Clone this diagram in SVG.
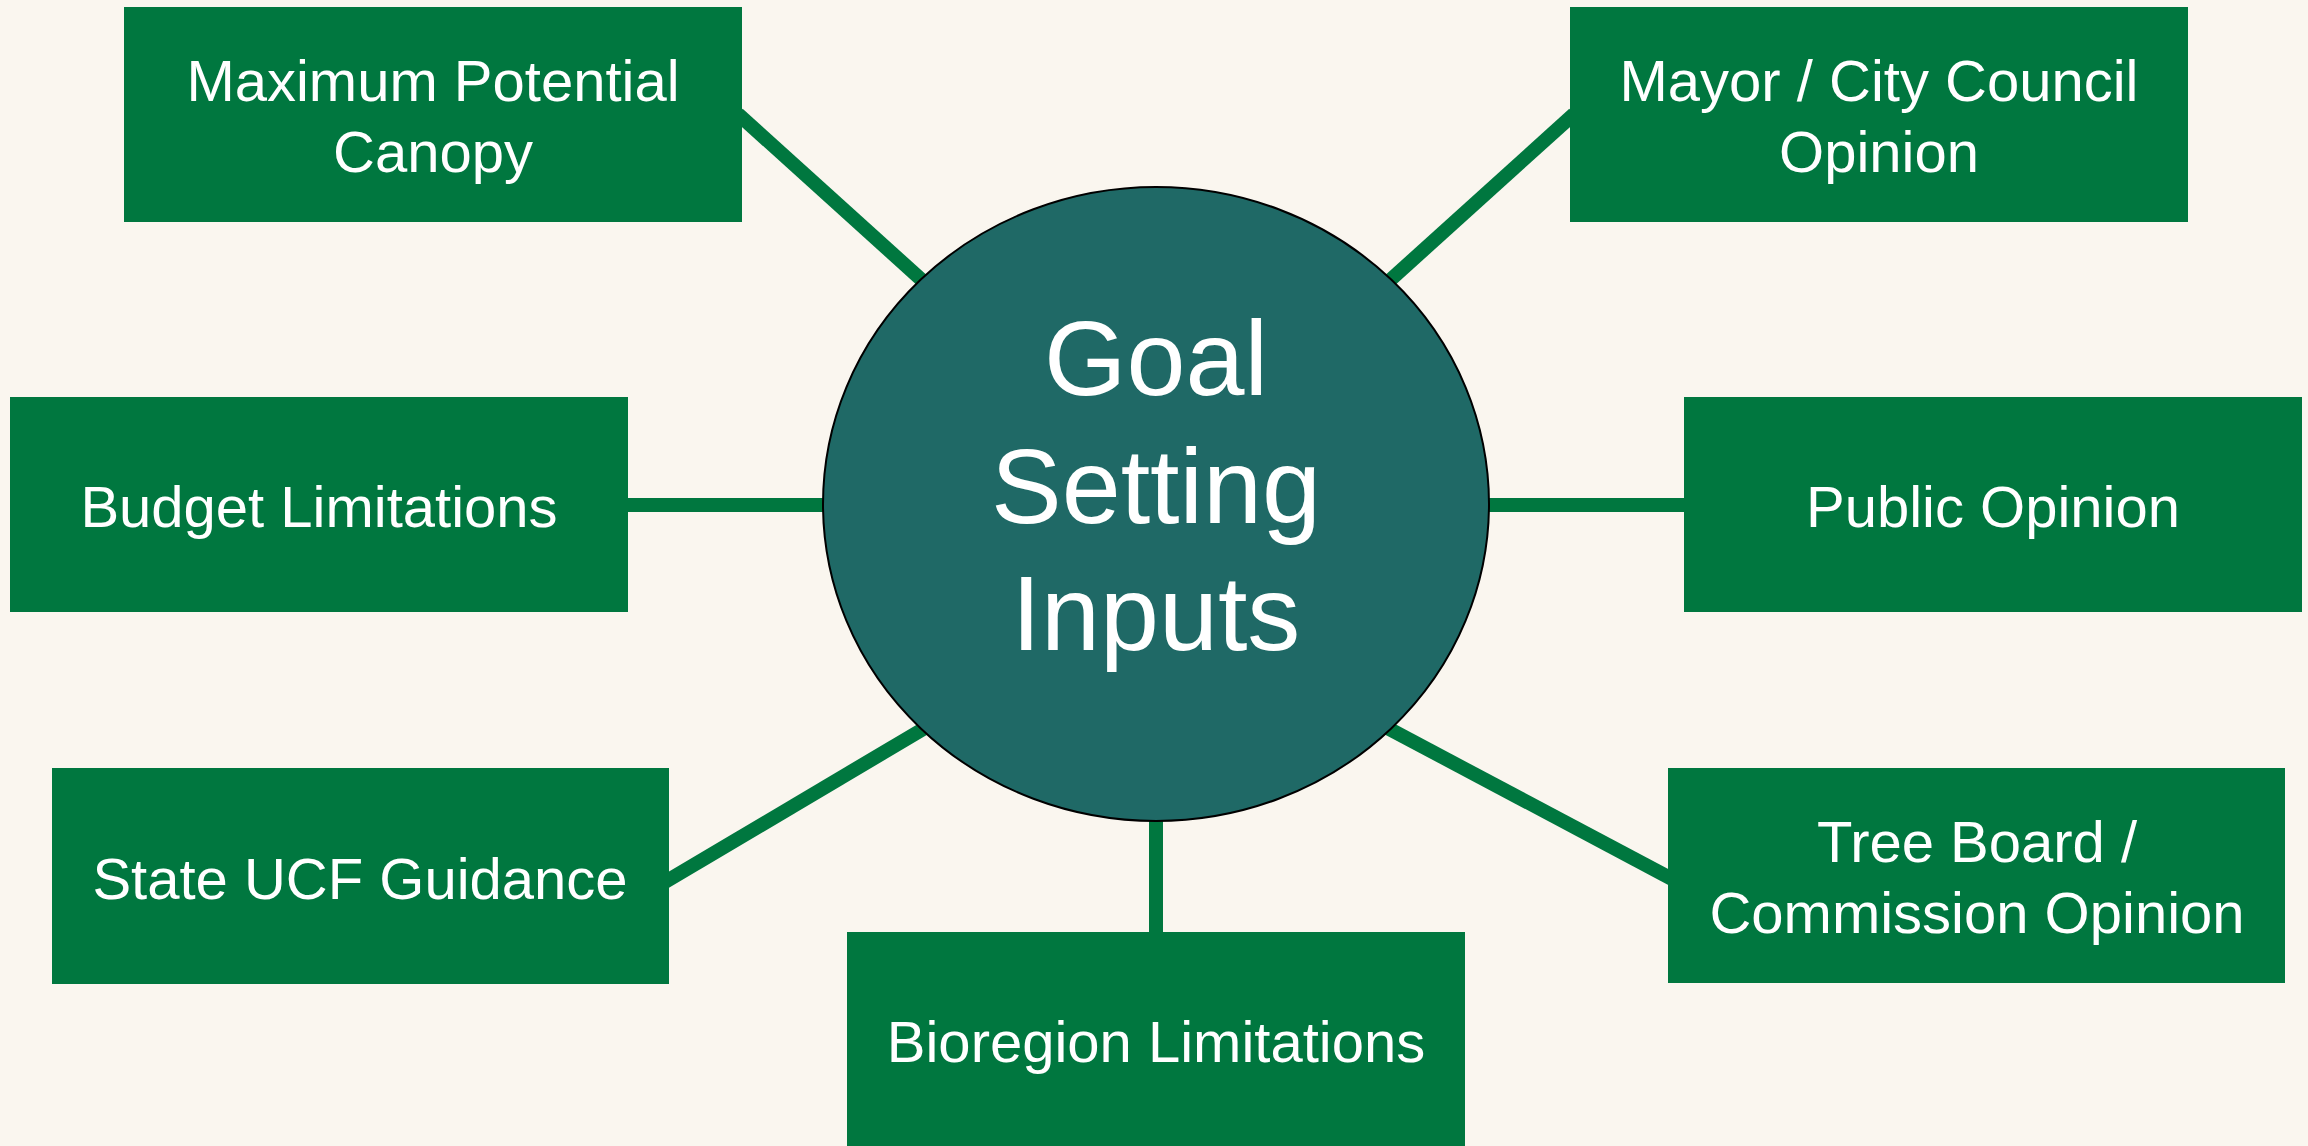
<svg xmlns="http://www.w3.org/2000/svg" width="2308" height="1146" viewBox="0 0 2308 1146">
  <style>
    .box { fill: #00773F; }
    .lbl { fill: #FFFFFF; font-family: "Liberation Sans", Arial, sans-serif; font-size: 58px; text-anchor: middle; }
    .hub { fill: #1F6966; stroke: #000000; stroke-width: 2; }
    .hubtxt { fill: #FFFFFF; font-family: "Liberation Sans", Arial, sans-serif; font-size: 106px; text-anchor: middle; }
    .conn { stroke: #00773F; stroke-width: 14; fill: none; stroke-linecap: butt; }
  </style>
  <rect width="2308" height="1146" fill="#FAF6EF"/>
  <g id="connectors">
    <line class="conn" x1="738" y1="114" x2="935" y2="292"/>
    <line class="conn" x1="1574" y1="114" x2="1377" y2="292"/>
    <line class="conn" x1="620" y1="505" x2="830" y2="505"/>
    <line class="conn" x1="1480" y1="505" x2="1690" y2="505"/>
    <line class="conn" x1="665" y1="882" x2="935" y2="722"/>
    <line class="conn" x1="1380" y1="724" x2="1672" y2="879"/>
    <line class="conn" x1="1156" y1="810" x2="1156" y2="940"/>
  </g>
  <g id="node-max-canopy">
    <rect class="box" x="124" y="7" width="618" height="215"/>
    <text class="lbl" x="433" y="101">Maximum Potential</text>
    <text class="lbl" x="433" y="172">Canopy</text>
  </g>
  <g id="node-mayor">
    <rect class="box" x="1570" y="7" width="618" height="215"/>
    <text class="lbl" x="1879" y="101">Mayor / City Council</text>
    <text class="lbl" x="1879" y="172">Opinion</text>
  </g>
  <g id="node-budget">
    <rect class="box" x="10" y="397" width="618" height="215"/>
    <text class="lbl" x="319" y="527">Budget Limitations</text>
  </g>
  <g id="node-public">
    <rect class="box" x="1684" y="397" width="618" height="215"/>
    <text class="lbl" x="1993" y="527">Public Opinion</text>
  </g>
  <g id="node-state">
    <rect class="box" x="52" y="768" width="617" height="216"/>
    <text class="lbl" x="360" y="899">State UCF Guidance</text>
  </g>
  <g id="node-treeboard">
    <rect class="box" x="1668" y="768" width="617" height="215"/>
    <text class="lbl" x="1977" y="862">Tree Board /</text>
    <text class="lbl" x="1977" y="933">Commission Opinion</text>
  </g>
  <g id="node-bioregion">
    <rect class="box" x="847" y="932" width="618" height="220"/>
    <text class="lbl" x="1156" y="1062">Bioregion Limitations</text>
  </g>
  <g id="node-hub">
    <ellipse class="hub" cx="1156" cy="504" rx="333" ry="317"/>
    <text class="hubtxt" x="1156" y="395">Goal</text>
    <text class="hubtxt" x="1156" y="523">Setting</text>
    <text class="hubtxt" x="1156" y="650">Inputs</text>
  </g>
</svg>
